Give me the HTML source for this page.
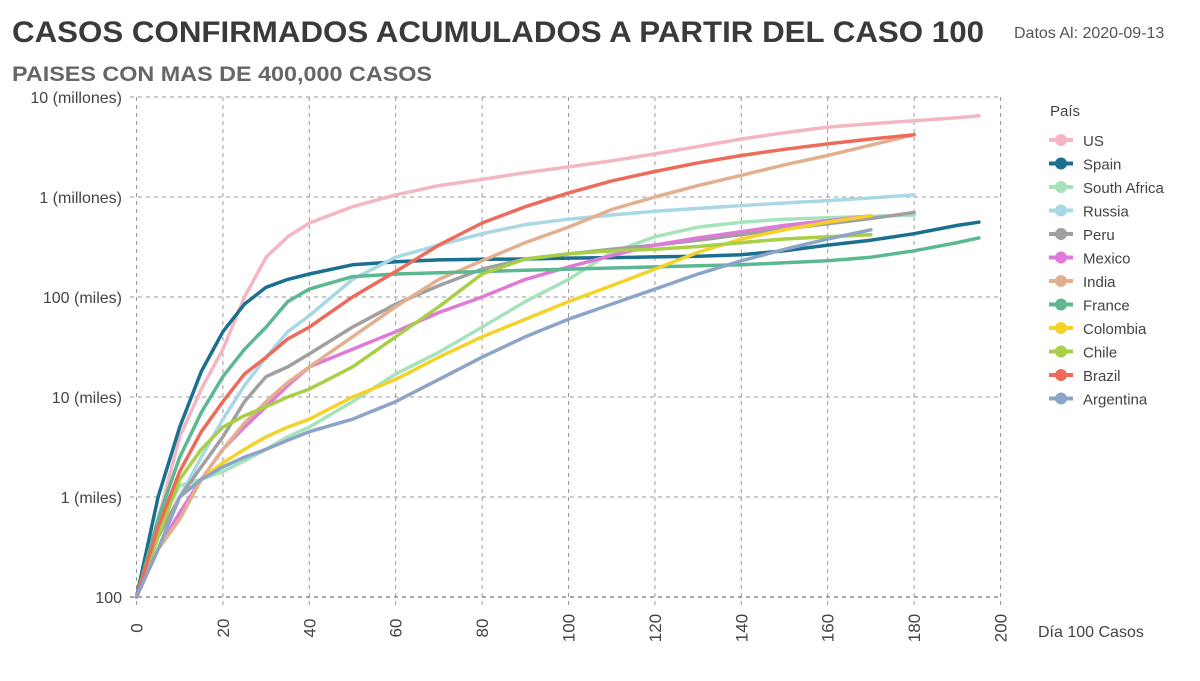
<!DOCTYPE html>
<html><head><meta charset="utf-8"><style>
body{margin:0;background:#fff;width:1200px;height:676px;overflow:hidden;font-family:"Liberation Sans",sans-serif;}
svg text{font-family:"Liberation Sans",sans-serif;}
</style></head><body>
<svg id="chart" width="1200" height="676">
<text x="12" y="42" font-size="30" font-weight="bold" fill="#3a3a3a" textLength="972" lengthAdjust="spacingAndGlyphs">CASOS CONFIRMADOS ACUMULADOS A PARTIR DEL CASO 100</text>
<text x="1014" y="38" font-size="16" fill="#555">Datos Al: 2020-09-13</text>
<text x="12" y="81" font-size="21" font-weight="bold" fill="#666" textLength="420" lengthAdjust="spacingAndGlyphs">PAISES CON MAS DE 400,000 CASOS</text>
<g id="grid"></g><g id="lines"></g><g id="legend"></g>
<text x="1038" y="637" font-size="16" fill="#444">Día 100 Casos</text>
</svg>
<script>
const days=[0,5,10,15,20,25,30,35,40,50,60,70,80,90,100,110,120,130,140,150,160,170,180,190,195];
const names=["US","Spain","South Africa","Russia","Peru","Mexico","India","France","Colombia","Chile","Brazil","Argentina"];
const colors=["#f4b6c2","#1b6f8f","#a6e3bd","#a8d8e6","#a0a0a0","#e07ad8","#e3b08f","#5bb891","#f5d22a","#a8cf45","#ee6b5c","#8ca4c8"];
const US=[100,600,4000,12000,30000,100000,250000,400000,550000,800000,1050000,1300000,1500000,1750000,2000000,2300000,2700000,3200000,3800000,4400000,5000000,5400000,5800000,6200000,6500000];
const Spain=[100,1000,5000,18000,45000,85000,125000,150000,170000,210000,225000,235000,238000,240000,245000,248000,252000,256000,265000,290000,330000,370000,430000,520000,560000];
const SouthAfrica=[100,500,1300,1500,1800,2300,3000,4000,5000,9000,17000,28000,50000,90000,150000,280000,400000,500000,560000,600000,620000,640000,660000,null,null];
const Russia=[100,400,1000,2500,6000,13000,25000,45000,65000,150000,250000,330000,430000,530000,600000,660000,720000,770000,820000,870000,920000,980000,1050000,null,null];
const Peru=[100,400,1000,2000,4000,9000,16000,20000,27000,50000,85000,130000,190000,240000,270000,300000,330000,370000,420000,480000,540000,610000,700000,null,null];
const Mexico=[100,300,700,1500,3000,5000,8000,13000,20000,30000,45000,70000,100000,150000,200000,260000,330000,390000,450000,520000,580000,650000,null,null,null];
const India=[100,300,600,1500,3000,5500,9000,14000,20000,40000,80000,150000,230000,350000,500000,750000,1000000,1300000,1650000,2100000,2600000,3300000,4200000,null,null];
const France=[100,600,2500,7000,16000,30000,50000,90000,120000,160000,170000,175000,180000,185000,190000,195000,200000,205000,210000,220000,230000,250000,290000,350000,390000];
const Colombia=[100,300,1000,1500,2200,3000,4000,5000,6000,10000,15000,25000,40000,60000,90000,130000,190000,280000,380000,470000,560000,650000,null,null,null];
const Chile=[100,400,1500,3000,5000,6500,8000,10000,12000,20000,40000,80000,170000,240000,270000,290000,300000,320000,350000,380000,400000,420000,null,null,null];
const Brazil=[100,500,1800,4500,9000,17000,25000,38000,50000,100000,180000,330000,550000,800000,1100000,1450000,1800000,2200000,2600000,3000000,3400000,3800000,4200000,null,null];
const Argentina=[100,300,1000,1500,2000,2500,3000,3700,4500,6000,9000,15000,25000,40000,60000,85000,120000,170000,230000,300000,380000,470000,null,null,null];
const series=[US,Spain,SouthAfrica,Russia,Peru,Mexico,India,France,Colombia,Chile,Brazil,Argentina];
const xTicks=[0,20,40,60,80,100,120,140,160,180,200];
const yTicks=[100,1000,10000,100000,1000000,10000000];
const yLabels=["100","1 (miles)","10 (miles)","100 (miles)","1 (millones)","10 (millones)"];
const NS="http://www.w3.org/2000/svg";
function xs(d){return 136.5+d*4.32;}
function ys(v){return 597-100*Math.log10(v/100);}
function mk(tag,attrs,parent){const e=document.createElementNS(NS,tag);for(const k in attrs)e.setAttribute(k,attrs[k]);parent.appendChild(e);return e;}
const grid=document.getElementById('grid'),lines=document.getElementById('lines'),leg=document.getElementById('legend');
xTicks.forEach(t=>{
  const l=mk('line',{x1:xs(t),x2:xs(t),y1:97,y2:605,stroke:'#999','stroke-dasharray':'4,4','stroke-width':1},grid);
  
  
  const tx=mk('text',{x:0,y:0,'font-size':17,fill:'#444','text-anchor':'middle',transform:`translate(${xs(t)+6},628) rotate(-90)`},grid);
  tx.textContent=t;
  
  
});
yTicks.forEach((t,i)=>{
  const l=mk('line',{x1:130,x2:1000,y1:ys(t),y2:ys(t),stroke:i==0?'#888':'#999','stroke-dasharray':'4,4','stroke-width':i==0?1.5:1},grid);
  
  
  const tx=mk('text',{x:122,y:ys(t)+6,'font-size':16,fill:'#444','text-anchor':'end'},grid);
  tx.textContent=yLabels[i];
  
  
});
series.forEach((s,i)=>{
  const pts=[];s.forEach((v,j)=>{if(v!=null)pts.push(xs(days[j]).toFixed(1)+','+ys(v).toFixed(1));});
  const p=mk('polyline',{points:pts.join(' '),fill:'none',stroke:colors[i],'stroke-width':3.5,'stroke-linejoin':'round','stroke-linecap':'round'},lines);
  
  
});
const lt=mk('text',{x:1050,y:116,'font-size':15,fill:'#444'},leg);
lt.textContent='País';


names.forEach((n,i)=>{
  const y=140+i*23.5;
  const g=mk('g',{},leg);
  
  
  mk('line',{x1:1049,x2:1073,y1:y,y2:y,stroke:colors[i],'stroke-width':4},g);
  mk('circle',{cx:1061,cy:y,r:6,fill:colors[i]},g);
  const t=mk('text',{x:1083,y:y+6,'font-size':15,fill:'#444'},g);
  t.textContent=n;
});
</script>
</body></html>
